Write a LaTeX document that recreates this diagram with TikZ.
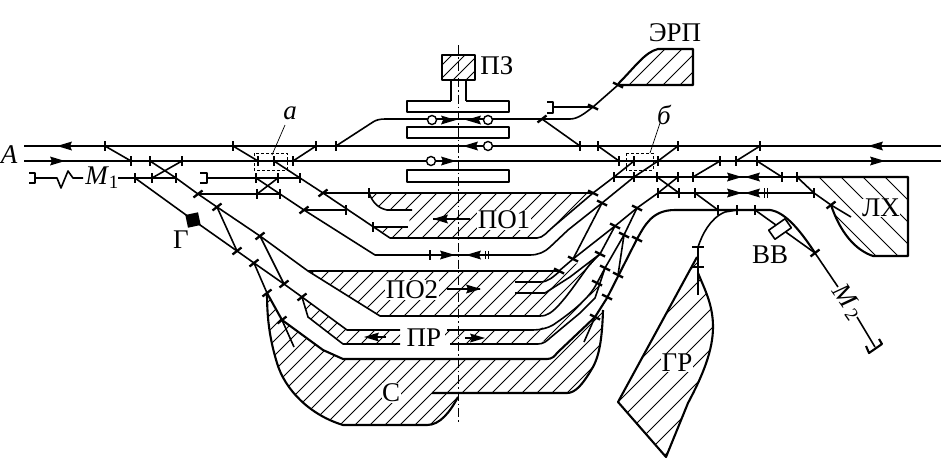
\documentclass[tikz,border=0pt]{standalone}
\usepackage{fontspec}
\setmainfont{Liberation Serif}
\tikzset{
  trk/.style={line width=1.6pt,line join=round},
  thk/.style={line width=2.1pt,line join=round},
  tick/.style={line width=2.3pt},
  htch/.style={line width=0.8pt},
  lab/.style={font=\fontsize{27}{27}\selectfont,inner sep=0.5pt},
  labw/.style={lab,fill=white},
  axisl/.style={line width=0.8pt,dash pattern=on 9pt off 3pt on 1.5pt off 3pt},
  sig/.style={line width=1.4pt,fill=white}
}
\newcommand\hatchf[2]{\begin{scope}\clip #1;\foreach \c in {0,#2,...,1500}{\draw[htch] (\c,0)--(\c-458,458);}\end{scope}}
\newcommand\hatchb[2]{\begin{scope}\clip #1;\foreach \c in {400,#2,...,1000}{\draw[htch] (\c,0)--(\c+458,458);}\end{scope}}
\newcommand\tkv[2]{\draw[tick] (#1,#2-5)--(#1,#2+5);}
\newcommand\tkd[2]{\draw[tick] (#1-4.5,#2+3.5)--(#1+4.5,#2-3.5);}
\newcommand\tku[2]{\draw[tick] (#1-5,#2-2.5)--(#1+5,#2+2.5);}
\newcommand\arR[2]{\fill (#1,#2)--(#1-15,#2-4.5)--(#1-13,#2)--(#1-15,#2+4.5)--cycle;}
\newcommand\arL[2]{\fill (#1,#2)--(#1+15,#2-4.5)--(#1+13,#2)--(#1+15,#2+4.5)--cycle;}
\begin{document}
\begin{tikzpicture}[x=1pt,y=-1pt]
\useasboundingbox (0,0) rectangle (941,458);
% hatching
\hatchf{(442,55) rectangle (475,80)}{13}
\hatchf{(618,84) .. controls (635,67) and (645,52) .. (658,49) -- (693,49) -- (693,85) -- cycle}{17}
\hatchf{(369,193) -- (593,193) -- (553,227) -- (537,238) -- (390,238) -- (373,227) -- (408,227) -- (412,210) -- (387,210) .. controls (378,208) and (373,203) .. (369,193) -- cycle}{15}
\hatchf{(308,271) -- (559,271) -- (599,254) -- (573,290) -- (550,313) -- (540,316) -- (380,316) -- cycle}{15}
\hatchf{(302,297) -- (347,330) -- (400,330) -- (400,344) -- (343,344) -- (308,317) -- cycle}{15}
\hatchf{(445,330) -- (533,330) -- (553,325) -- (587,300) -- (597,283) -- (605,268) -- (595,298) -- (580,313) -- (550,338) -- (538,344) -- (445,344) -- cycle}{15}
\hatchf{(267,293) -- (282,320) -- (323,350) -- (343,359) -- (547,359) -- (557,353) -- (595,317) -- (607,298) -- (603,310) .. controls (602,345) and (598,360) .. (590,372) .. controls (582,385) and (575,393) .. (567,393) -- (458,393) -- (458,397) .. controls (450,412) and (440,425) .. (427,425) -- (343,425) .. controls (310,415) and (285,390) .. (277,363) .. controls (270,340) and (267,320) .. (267,293) -- cycle}{15}
\hatchf{(618,402) -- (697,257) -- (698,273) .. controls (705,290) and (713,305) .. (713,327) .. controls (713,350) and (703,375) .. (688,403) -- (666,457) -- cycle}{20}
\hatchb{(797,177) -- (908,177) -- (908,256) -- (873,256) .. controls (855,250) and (840,232) .. (831,205) -- (814,193) -- cycle}{422}
% axis
\draw[axisl] (458,45)--(458,423);
% station buildings
\draw[thk] (442,55) rectangle (475,80);
\draw[thk] (451,80)--(451,101) (466,80)--(466,101);
\draw[thk] (451,101)--(407,101)--(407,112)--(509,112)--(509,101)--(466,101);
\draw[thk] (407,127) rectangle (509,138);
\draw[thk] (407,170) rectangle (509,182);
% main lines
\draw[trk] (24,146)--(941,146);
\draw[trk] (24,161)--(941,161);
% left end
\draw[thk] (29,173)--(35,173)--(35,183)--(29,183);
\draw[trk] (35,178)--(57,178)--(61,188)--(68,171)--(73,178)--(83,178);
\draw[trk] (118,178)--(176,178);
\draw[trk] (105,146)--(131,161);
\draw[trk] (150,161)--(176,178)--(198,194)--(217,207)--(260,236)--(308,271)--(380,316)--(540,316);
\draw[trk] (182,161)--(152,178);
\draw[trk] (135,178)--(193,220)--(237,251)--(254,263)--(284,284)--(302,297)--(347,330)--(400,330);
\draw[trk] (217,207)--(237,251);
\draw[trk] (260,236)--(284,284);
\draw[trk] (254,263)--(267,293);
\draw[trk] (302,297)--(308,317)--(343,344)--(400,344);
\draw[thk] (267,293)--(282,320)--(323,350)--(343,359)--(547,359);
\draw[trk] (282,320)--(294,347);
% C outline
\draw[thk] (267,293) .. controls (267,320) and (270,340) .. (277,363) .. controls (285,390) and (310,415) .. (343,425) -- (427,425) .. controls (440,425) and (450,412) .. (458,397);
\draw[thk] (432,393)--(567,393) .. controls (575,393) and (582,385) .. (590,372) .. controls (598,360) and (602,345) .. (603,310);
\draw[trk] (595,317)--(584,342);
% left crossover
\draw[trk] (233,146)--(258,161);
\draw[trk] (293,161)--(316,146);
\draw[trk] (274,161)--(300,178)--(323,193)--(390,238)--(537,238) .. controls (543,238) and (548,231) .. (553,227)--(593,193)--(614,177)--(634,161);
\draw[trk] (207,178)--(300,178);
\draw[thk] (200,173)--(207,173)--(207,183)--(200,183);
\draw[trk] (198,194)--(280,194);
\draw[trk] (256,178)--(280,194)--(304,210)--(375,255)--(530,255) .. controls (538,255) and (545,252) .. (550,247)--(568,230)--(602,203)--(634,177)--(658,161);
\draw[trk] (278,178)--(257,194);
\draw[trk] (304,210)--(346,210);
% PO1
\draw[trk] (323,193)--(593,193);
\draw[trk] (369,193) .. controls (373,203) and (378,208) .. (387,210) -- (412,210);
\draw[trk] (373,227)--(408,227);
% siding
\draw[trk] (336,146)--(373,122) .. controls (376,120) and (380,119) .. (385,119) -- (570,119) .. controls (578,119) and (585,113) .. (593,107)--(618,85);
\draw[trk] (542,119)--(580,146);
\draw[thk] (547,102)--(553,102)--(553,113)--(547,113);
\draw[trk] (553,107)--(593,107);
\draw[thk] (618,84) .. controls (635,67) and (645,52) .. (658,49) -- (693,49) -- (693,85) -- (618,85);
% right crossover
\draw[trk] (598,146)--(619,161);
\draw[trk] (658,161)--(678,146);
\draw[trk] (693,177)--(720,161);
\draw[trk] (736,161)--(760,146);
\draw[trk] (757,161)--(782,177);
\draw[trk] (614,177)--(797,177)--(908,177);
\draw[trk] (658,193)--(814,193);
\draw[trk] (657,177)--(679,193);
\draw[trk] (695,193)--(718,210);
% fan
\draw[trk] (678,177)--(658,193)--(637,208)--(615,226)--(573,259)--(559,271)--(308,271);
\draw[trk] (602,203)--(573,259);
\draw[trk] (615,226)--(600,254)--(590,264) .. controls (578,280) and (562,305) .. (550,313) .. controls (547,315) and (544,316) .. (540,316);
\draw[trk] (637,208)--(624,235)--(618,275);
\draw[trk] (624,235)--(605,268)--(597,283) .. controls (590,297) and (575,310) .. (553,325) .. controls (548,328) and (540,330) .. (533,330)--(447,330);
\draw[trk] (605,268)--(595,298)--(580,313)--(550,338) .. controls (547,341) and (543,344) .. (538,344)--(450,344);
\draw[trk] (515,282)--(540,282) .. controls (548,282) and (553,277) .. (560,271);
\draw[trk] (515,293)--(545,293)--(570,277)--(600,254);
\draw[thk] (547,359) .. controls (552,359) and (555,356) .. (557,353)--(595,317)--(607,298)--(637,239) .. controls (645,225) and (652,210) .. (675,210)--(770,210) .. controls (785,212) and (800,230) .. (815,253);
% hump
\draw[trk] (755,210)--(815,253)--(838,287);
\draw[trk] (857,317)--(875,347);
\draw[thk] (866,346)--(869,353)--(882,344)--(879,339);
\draw[trk,fill=white,rotate around={35:(780,229)}] (770,223.5) rectangle (790,234.5);
% LH
\draw[thk] (797,177)--(908,177)--(908,256)--(873,256) .. controls (855,250) and (840,232) .. (831,205);
\draw[trk] (797,177)--(814,193)--(831,205)--(851,217);
% GR
\draw[trk] (698,247) .. controls (702,235) and (710,218) .. (725,212) -- (737,210);
\draw[thk] (698,247)--(698,295);
\draw[thk] (697,257)--(618,402)--(666,457)--(688,403) .. controls (703,375) and (713,350) .. (713,327) .. controls (713,305) and (705,290) .. (698,273);
% G square
\fill[rotate around={12:(193,220)}] (186.5,213.5) rectangle (199.5,226.5);
% ticks on straight lines
\foreach \p/\q in {105/146,233/146,316/146,336/146,580/146,598/146,678/146,760/146,
  131/161,150/161,182/161,258/161,274/161,293/161,619/161,634/161,658/161,720/161,736/161,757/161,
  135/178,152/178,176/178,256/178,278/178,300/178,614/177,634/177,657/177,678/177,693/177,782/177,797/177,
  257/194,280/194,658/193,679/193,695/193,814/193,
  718/210,737/210,755/210,430/255,369/193,373/227,346/210}{\tkv{\p}{\q}}
\foreach \p/\q in {217/207,260/236,237/251,254/263,284/284,302/297,267/293,282/320,198/194,304/210,323/193,
  542/119,831/205,815/253}{\tkd{\p}{\q}}
\foreach \p/\q in {559/271,573/259,593/193,602/203,615/226,624/235,637/208,637/239,600/254,605/268,618/275,597/283,607/297,595/317,593/107,618/85}{\tku{\p}{\q}}
\draw[tick] (692,247)--(704,247) (692,267)--(704,267);
\draw[line width=0.9pt] (485,251)--(485,259) (488,251)--(488,259) (764,188)--(764,198) (767,188)--(767,198);
% signals and arrows
\draw[sig] (432,120) circle[radius=4.5];
\draw[sig] (488,120) circle[radius=4.5];
\draw[sig] (488,146) circle[radius=4.5];
\draw[sig] (431,161) circle[radius=4.5];
\arR{456}{120}\arL{466}{120}\arL{463}{146}\arR{456}{161}
\arL{57}{146}\arR{65}{161}\arL{868}{146}\arR{885}{161}
\arR{742}{177}\arL{745}{177}\arR{742}{193}\arL{745}{193}
\arR{455}{255}\arL{466}{255}
\draw[trk] (447,289)--(480,289); \arR{481}{289}
\draw[trk] (433,219)--(470,219); \arL{433}{219}
\arL{364}{337}\arR{485}{338}
\draw[trk] (375,337)--(386,337) (465,338)--(475,338);
% dashed boxes and leaders
\draw[line width=0.6pt,densely dashed] (254,153) rectangle (287,170);
\draw[line width=0.6pt,densely dashed] (626,153) rectangle (653,170);
\draw[line width=0.7pt] (285,125)--(272,155);
\draw[line width=0.7pt] (660,123)--(650,153);
% labels
\node[lab] (lPZ) at (497,66) {ПЗ};
\node[lab] (lERP) at (675,33) {ЭРП};
\node[labw] (lPO1) at (504,220) {ПО1};
\node[labw] (lPO2) at (412,290) {ПО2};
\node[labw] (lPR) at (424,338) {ПР};
\node[labw] (lC) at (391,393) {С};
\node[labw] (lGR) at (677,363) {ГР};
\node[labw] (lLH) at (881,208) {ЛХ};
\node[lab] (lG) at (181,240) {Г};
\node[lab] (lBB) at (770,255) {ВВ};
\node[lab] (lA) at (9,155) {\itshape A};
\node[lab] (la) at (290,113) {\itshape a};
\node[lab] (lb) at (664,115) {\itshape б};
\node[lab] (lM1) at (102,178) {\itshape M\kern1pt\textsubscript{\upshape 1}};
\node[lab,rotate=-55] (lM2) at (848,302) {\itshape M\kern4pt\textsubscript{\upshape 2}};
\end{tikzpicture}
\end{document}
